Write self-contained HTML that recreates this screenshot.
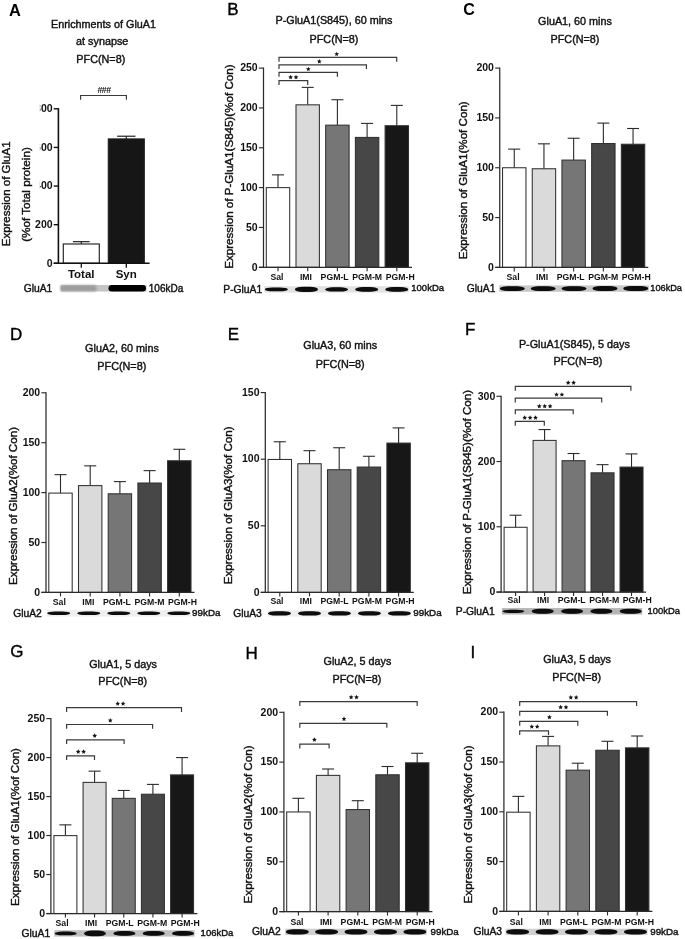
<!DOCTYPE html>
<html><head><meta charset="utf-8"><style>
html,body{margin:0;padding:0;background:#fff;}
svg{display:block;font-family:"Liberation Sans", sans-serif;will-change:transform;}
</style></head><body>
<svg width="685" height="939" viewBox="0 0 685 939">
<defs><filter id="bl0" x="-20%" y="-100%" width="140%" height="300%"><feGaussianBlur stdDeviation="0.55"/></filter><filter id="bl1" x="-20%" y="-100%" width="140%" height="300%"><feGaussianBlur stdDeviation="0.8"/></filter>
<filter id="bl2" x="-20%" y="-100%" width="140%" height="300%"><feGaussianBlur stdDeviation="1.8"/></filter></defs>
<rect width="685" height="939" fill="#fff"/>
<text x="9.00" y="15.60" font-size="16.4" text-anchor="start" font-weight="bold" fill="#000" >A</text>
<text x="103.50" y="28.30" font-size="10.8" text-anchor="middle" font-weight="normal" fill="#111" stroke="#111" stroke-width="0.4">Enrichments of GluA1</text>
<text x="102.20" y="45.30" font-size="10.8" text-anchor="middle" font-weight="normal" fill="#111" stroke="#111" stroke-width="0.4">at synapse</text>
<text x="100.80" y="63.00" font-size="10.8" text-anchor="middle" font-weight="normal" fill="#111" stroke="#111" stroke-width="0.4">PFC(N=8)</text>
<line x1="53.70" y1="263.30" x2="58.40" y2="263.30" stroke="#111" stroke-width="1.4"/>
<text x="52.60" y="266.50" font-size="10.5" text-anchor="end" font-weight="bold" fill="#111" >0</text>
<line x1="53.70" y1="224.68" x2="58.40" y2="224.68" stroke="#111" stroke-width="1.4"/>
<text x="52.60" y="227.88" font-size="10.5" text-anchor="end" font-weight="bold" fill="#111" >200</text>
<line x1="53.70" y1="186.05" x2="58.40" y2="186.05" stroke="#111" stroke-width="1.4"/>
<text x="52.60" y="189.25" font-size="10.5" text-anchor="end" font-weight="bold" fill="#111" >400</text>
<line x1="53.70" y1="147.43" x2="58.40" y2="147.43" stroke="#111" stroke-width="1.4"/>
<text x="52.60" y="150.62" font-size="10.5" text-anchor="end" font-weight="bold" fill="#111" >600</text>
<line x1="53.70" y1="108.80" x2="58.40" y2="108.80" stroke="#111" stroke-width="1.4"/>
<text x="52.60" y="112.00" font-size="10.5" text-anchor="end" font-weight="bold" fill="#111" >800</text>
<rect x="0.00" y="100.00" width="39.90" height="105.00" fill="#fff"/>
<text transform="translate(10.2,193.85) rotate(-90)" font-size="11.5" text-anchor="middle" fill="#111" stroke="#111" stroke-width="0.4">Expression of GluA1</text>
<text transform="translate(29.5,194.5) rotate(-90)" font-size="11.7" text-anchor="middle" fill="#111" stroke="#111" stroke-width="0.4">(%of Total protein)</text>
<line x1="81.30" y1="243.99" x2="81.30" y2="241.67" stroke="#222" stroke-width="1.2"/>
<line x1="72.95" y1="241.67" x2="89.65" y2="241.67" stroke="#222" stroke-width="1.2"/>
<rect x="63.30" y="243.99" width="36.00" height="19.31" fill="#fff" stroke="#222" stroke-width="1.15"/>
<line x1="126.30" y1="138.93" x2="126.30" y2="136.22" stroke="#222" stroke-width="1.2"/>
<line x1="117.15" y1="136.22" x2="135.45" y2="136.22" stroke="#222" stroke-width="1.2"/>
<rect x="108.30" y="138.93" width="36.00" height="124.37" fill="#161616" stroke="#222" stroke-width="1.15"/>
<line x1="58.40" y1="264.00" x2="58.40" y2="108.10" stroke="#111" stroke-width="1.6"/>
<line x1="53.70" y1="263.30" x2="149.60" y2="263.30" stroke="#111" stroke-width="1.6"/>
<line x1="81.30" y1="263.30" x2="81.30" y2="267.80" stroke="#111" stroke-width="1.3"/>
<line x1="126.30" y1="263.30" x2="126.30" y2="267.80" stroke="#111" stroke-width="1.3"/>
<text x="81.20" y="278.00" font-size="11.5" text-anchor="middle" font-weight="bold" fill="#111" >Total</text>
<text x="126.20" y="278.00" font-size="11.5" text-anchor="middle" font-weight="bold" fill="#111" >Syn</text>
<path d="M80.6,99.8 V95.5 H126.4 V99.8" fill="none" stroke="#3a3a3a" stroke-width="1.15"/>
<text x="104.00" y="93.30" font-size="8.8" text-anchor="middle" font-weight="bold" fill="#111" letter-spacing="-0.6">###</text>
<text x="52.30" y="291.60" font-size="10.3" text-anchor="end" font-weight="normal" fill="#111" stroke="#111" stroke-width="0.4">GluA1</text>
<rect x="60.5" y="285" width="86" height="6.5" fill="#c4c4c4" filter="url(#bl0)"/>
<rect x="60.5" y="285.3" width="36" height="6" rx="2" fill="#9c9c9c" filter="url(#bl1)"/>
<rect x="108.5" y="285" width="37.5" height="6.6" rx="3.3" fill="#050505" filter="url(#bl0)"/>
<text x="148.80" y="291.80" font-size="10.0" text-anchor="start" font-weight="normal" fill="#111" stroke="#111" stroke-width="0.4">106kDa</text>
<text x="227.20" y="14.50" font-size="17" text-anchor="start" font-weight="normal" fill="#000" stroke="#000" stroke-width="0.35">B</text>
<text x="334.00" y="24.20" font-size="10.8" text-anchor="middle" font-weight="normal" fill="#111" stroke="#111" stroke-width="0.4">P-GluA1(S845), 60 mins</text>
<text x="334.00" y="42.60" font-size="10.8" text-anchor="middle" font-weight="normal" fill="#111" stroke="#111" stroke-width="0.4">PFC(N=8)</text>
<text transform="translate(232.80,166.60) rotate(-90)" font-size="11.6" text-anchor="middle" fill="#111" stroke="#111" stroke-width="0.4">Expression of P-GluA1(S845)(%of Con)</text>
<line x1="278.00" y1="187.62" x2="278.00" y2="174.87" stroke="#2b2b2b" stroke-width="1.1"/>
<line x1="272.00" y1="174.87" x2="284.00" y2="174.87" stroke="#2b2b2b" stroke-width="1.1"/>
<rect x="266.30" y="187.62" width="23.40" height="79.68" fill="#ffffff" stroke="#303030" stroke-width="1.05"/>
<line x1="307.70" y1="104.83" x2="307.70" y2="87.38" stroke="#2b2b2b" stroke-width="1.1"/>
<line x1="301.70" y1="87.38" x2="313.70" y2="87.38" stroke="#2b2b2b" stroke-width="1.1"/>
<rect x="296.00" y="104.83" width="23.40" height="162.47" fill="#dadada" stroke="#303030" stroke-width="1.05"/>
<line x1="337.40" y1="125.15" x2="337.40" y2="99.73" stroke="#2b2b2b" stroke-width="1.1"/>
<line x1="331.40" y1="99.73" x2="343.40" y2="99.73" stroke="#2b2b2b" stroke-width="1.1"/>
<rect x="325.70" y="125.15" width="23.40" height="142.15" fill="#767676" stroke="#303030" stroke-width="1.05"/>
<line x1="367.10" y1="137.42" x2="367.10" y2="123.40" stroke="#2b2b2b" stroke-width="1.1"/>
<line x1="361.10" y1="123.40" x2="373.10" y2="123.40" stroke="#2b2b2b" stroke-width="1.1"/>
<rect x="355.40" y="137.42" width="23.40" height="129.88" fill="#474747" stroke="#303030" stroke-width="1.05"/>
<line x1="396.80" y1="125.71" x2="396.80" y2="105.39" stroke="#2b2b2b" stroke-width="1.1"/>
<line x1="390.80" y1="105.39" x2="402.80" y2="105.39" stroke="#2b2b2b" stroke-width="1.1"/>
<rect x="385.10" y="125.71" width="23.40" height="141.59" fill="#171717" stroke="#303030" stroke-width="1.05"/>
<line x1="263.50" y1="267.90" x2="263.50" y2="67.50" stroke="#2b2b2b" stroke-width="1.25"/>
<line x1="258.90" y1="267.30" x2="412.00" y2="267.30" stroke="#2b2b2b" stroke-width="1.25"/>
<line x1="258.90" y1="267.30" x2="263.50" y2="267.30" stroke="#2b2b2b" stroke-width="1.15"/>
<text x="257.70" y="270.50" font-size="10.5" text-anchor="end" font-weight="bold" fill="#111" >0</text>
<line x1="258.90" y1="227.46" x2="263.50" y2="227.46" stroke="#2b2b2b" stroke-width="1.15"/>
<text x="257.70" y="230.66" font-size="10.5" text-anchor="end" font-weight="bold" fill="#111" >50</text>
<line x1="258.90" y1="187.62" x2="263.50" y2="187.62" stroke="#2b2b2b" stroke-width="1.15"/>
<text x="257.70" y="190.82" font-size="10.5" text-anchor="end" font-weight="bold" fill="#111" >100</text>
<line x1="258.90" y1="147.78" x2="263.50" y2="147.78" stroke="#2b2b2b" stroke-width="1.15"/>
<text x="257.70" y="150.98" font-size="10.5" text-anchor="end" font-weight="bold" fill="#111" >150</text>
<line x1="258.90" y1="107.94" x2="263.50" y2="107.94" stroke="#2b2b2b" stroke-width="1.15"/>
<text x="257.70" y="111.14" font-size="10.5" text-anchor="end" font-weight="bold" fill="#111" >200</text>
<line x1="258.90" y1="68.10" x2="263.50" y2="68.10" stroke="#2b2b2b" stroke-width="1.15"/>
<text x="257.70" y="71.30" font-size="10.5" text-anchor="end" font-weight="bold" fill="#111" >250</text>
<line x1="278.00" y1="267.30" x2="278.00" y2="271.30" stroke="#2b2b2b" stroke-width="1.1"/>
<line x1="307.70" y1="267.30" x2="307.70" y2="271.30" stroke="#2b2b2b" stroke-width="1.1"/>
<line x1="337.40" y1="267.30" x2="337.40" y2="271.30" stroke="#2b2b2b" stroke-width="1.1"/>
<line x1="367.10" y1="267.30" x2="367.10" y2="271.30" stroke="#2b2b2b" stroke-width="1.1"/>
<line x1="396.80" y1="267.30" x2="396.80" y2="271.30" stroke="#2b2b2b" stroke-width="1.1"/>
<text x="277.00" y="279.90" font-size="8.7" text-anchor="middle" font-weight="bold" fill="#111" >Sal</text>
<text x="306.00" y="279.90" font-size="8.7" text-anchor="middle" font-weight="bold" fill="#111" >IMI</text>
<text x="334.60" y="279.90" font-size="8.7" text-anchor="middle" font-weight="bold" fill="#111" >PGM-L</text>
<text x="367.15" y="279.90" font-size="8.7" text-anchor="middle" font-weight="bold" fill="#111" >PGM-M</text>
<text x="400.20" y="279.90" font-size="8.7" text-anchor="middle" font-weight="bold" fill="#111" >PGM-H</text>
<path d="M279.00,61.70 V57.40 H396.70 V61.70" fill="none" stroke="#3a3a3a" stroke-width="1.2"/>
<polygon points="336.70,51.65 337.38,53.17 339.03,53.34 337.79,54.46 338.14,56.08 336.70,55.25 335.26,56.08 335.61,54.46 334.37,53.34 336.02,53.17" fill="#151515"/>
<path d="M279.00,69.10 V64.80 H366.40 V69.10" fill="none" stroke="#3a3a3a" stroke-width="1.2"/>
<polygon points="319.30,59.05 319.98,60.57 321.63,60.74 320.39,61.86 320.74,63.48 319.30,62.65 317.86,63.48 318.21,61.86 316.97,60.74 318.62,60.57" fill="#151515"/>
<path d="M279.00,76.70 V72.40 H337.40 V76.70" fill="none" stroke="#3a3a3a" stroke-width="1.2"/>
<polygon points="308.30,66.65 308.98,68.17 310.63,68.34 309.39,69.46 309.74,71.08 308.30,70.25 306.86,71.08 307.21,69.46 305.97,68.34 307.62,68.17" fill="#151515"/>
<path d="M279.00,84.90 V80.60 H307.70 V84.90" fill="none" stroke="#3a3a3a" stroke-width="1.2"/>
<polygon points="290.60,74.85 291.28,76.37 292.93,76.54 291.69,77.66 292.04,79.28 290.60,78.45 289.16,79.28 289.51,77.66 288.27,76.54 289.92,76.37" fill="#151515"/>
<polygon points="296.00,74.85 296.68,76.37 298.33,76.54 297.09,77.66 297.44,79.28 296.00,78.45 294.56,79.28 294.91,77.66 293.67,76.54 295.32,76.37" fill="#151515"/>
<text x="262.20" y="292.80" font-size="10.3" text-anchor="end" font-weight="normal" fill="#111" stroke="#111" stroke-width="0.4">P-GluA1</text>
<rect x="264.3" y="286.2" width="144.5" height="6.4" fill="#e2e2e2" filter="url(#bl0)"/>
<rect x="264.8" y="287.5" width="23.0" height="3.8" rx="8" ry="1.9" fill="#080808" filter="url(#bl0)"/>
<rect x="294.9" y="286.8" width="23.0" height="5.2" rx="8" ry="2.6" fill="#080808" filter="url(#bl0)"/>
<rect x="325.1" y="287.3" width="23.0" height="4.2" rx="8" ry="2.1" fill="#080808" filter="url(#bl0)"/>
<rect x="355.2" y="287.0" width="23.0" height="4.8" rx="8" ry="2.4" fill="#080808" filter="url(#bl0)"/>
<rect x="385.3" y="287.1" width="23.0" height="4.6" rx="8" ry="2.3" fill="#080808" filter="url(#bl0)"/>
<text x="411.30" y="291.10" font-size="9.5" text-anchor="start" font-weight="normal" fill="#111" stroke="#111" stroke-width="0.4">100kDa</text>
<text x="463.30" y="14.60" font-size="16" text-anchor="start" font-weight="bold" fill="#000" >C</text>
<text x="575.00" y="25.20" font-size="10.8" text-anchor="middle" font-weight="normal" fill="#111" stroke="#111" stroke-width="0.4">GluA1, 60 mins</text>
<text x="575.00" y="43.10" font-size="10.8" text-anchor="middle" font-weight="normal" fill="#111" stroke="#111" stroke-width="0.4">PFC(N=8)</text>
<text transform="translate(467.30,180.25) rotate(-90)" font-size="11.6" text-anchor="middle" fill="#111" stroke="#111" stroke-width="0.4">Expression of GluA1(%of Con)</text>
<line x1="514.25" y1="167.75" x2="514.25" y2="149.12" stroke="#2b2b2b" stroke-width="1.1"/>
<line x1="508.25" y1="149.12" x2="520.25" y2="149.12" stroke="#2b2b2b" stroke-width="1.1"/>
<rect x="502.55" y="167.75" width="23.40" height="99.65" fill="#ffffff" stroke="#303030" stroke-width="1.05"/>
<line x1="543.95" y1="168.75" x2="543.95" y2="143.83" stroke="#2b2b2b" stroke-width="1.1"/>
<line x1="537.95" y1="143.83" x2="549.95" y2="143.83" stroke="#2b2b2b" stroke-width="1.1"/>
<rect x="532.25" y="168.75" width="23.40" height="98.65" fill="#dadada" stroke="#303030" stroke-width="1.05"/>
<line x1="573.65" y1="160.08" x2="573.65" y2="138.25" stroke="#2b2b2b" stroke-width="1.1"/>
<line x1="567.65" y1="138.25" x2="579.65" y2="138.25" stroke="#2b2b2b" stroke-width="1.1"/>
<rect x="561.95" y="160.08" width="23.40" height="107.32" fill="#767676" stroke="#303030" stroke-width="1.05"/>
<line x1="603.35" y1="143.54" x2="603.35" y2="123.11" stroke="#2b2b2b" stroke-width="1.1"/>
<line x1="597.35" y1="123.11" x2="609.35" y2="123.11" stroke="#2b2b2b" stroke-width="1.1"/>
<rect x="591.65" y="143.54" width="23.40" height="123.86" fill="#474747" stroke="#303030" stroke-width="1.05"/>
<line x1="633.05" y1="144.23" x2="633.05" y2="128.49" stroke="#2b2b2b" stroke-width="1.1"/>
<line x1="627.05" y1="128.49" x2="639.05" y2="128.49" stroke="#2b2b2b" stroke-width="1.1"/>
<rect x="621.35" y="144.23" width="23.40" height="123.17" fill="#171717" stroke="#303030" stroke-width="1.05"/>
<line x1="499.75" y1="268.00" x2="499.75" y2="67.50" stroke="#2b2b2b" stroke-width="1.25"/>
<line x1="495.15" y1="267.40" x2="648.25" y2="267.40" stroke="#2b2b2b" stroke-width="1.25"/>
<line x1="495.15" y1="267.40" x2="499.75" y2="267.40" stroke="#2b2b2b" stroke-width="1.15"/>
<text x="493.95" y="270.60" font-size="10.5" text-anchor="end" font-weight="bold" fill="#111" >0</text>
<line x1="495.15" y1="217.57" x2="499.75" y2="217.57" stroke="#2b2b2b" stroke-width="1.15"/>
<text x="493.95" y="220.77" font-size="10.5" text-anchor="end" font-weight="bold" fill="#111" >50</text>
<line x1="495.15" y1="167.75" x2="499.75" y2="167.75" stroke="#2b2b2b" stroke-width="1.15"/>
<text x="493.95" y="170.95" font-size="10.5" text-anchor="end" font-weight="bold" fill="#111" >100</text>
<line x1="495.15" y1="117.92" x2="499.75" y2="117.92" stroke="#2b2b2b" stroke-width="1.15"/>
<text x="493.95" y="121.12" font-size="10.5" text-anchor="end" font-weight="bold" fill="#111" >150</text>
<line x1="495.15" y1="68.10" x2="499.75" y2="68.10" stroke="#2b2b2b" stroke-width="1.15"/>
<text x="493.95" y="71.30" font-size="10.5" text-anchor="end" font-weight="bold" fill="#111" >200</text>
<line x1="514.25" y1="267.40" x2="514.25" y2="271.40" stroke="#2b2b2b" stroke-width="1.1"/>
<line x1="543.95" y1="267.40" x2="543.95" y2="271.40" stroke="#2b2b2b" stroke-width="1.1"/>
<line x1="573.65" y1="267.40" x2="573.65" y2="271.40" stroke="#2b2b2b" stroke-width="1.1"/>
<line x1="603.35" y1="267.40" x2="603.35" y2="271.40" stroke="#2b2b2b" stroke-width="1.1"/>
<line x1="633.05" y1="267.40" x2="633.05" y2="271.40" stroke="#2b2b2b" stroke-width="1.1"/>
<text x="513.10" y="280.20" font-size="8.7" text-anchor="middle" font-weight="bold" fill="#111" >Sal</text>
<text x="542.10" y="280.20" font-size="8.7" text-anchor="middle" font-weight="bold" fill="#111" >IMI</text>
<text x="570.70" y="280.20" font-size="8.7" text-anchor="middle" font-weight="bold" fill="#111" >PGM-L</text>
<text x="603.25" y="280.20" font-size="8.7" text-anchor="middle" font-weight="bold" fill="#111" >PGM-M</text>
<text x="636.30" y="280.20" font-size="8.7" text-anchor="middle" font-weight="bold" fill="#111" >PGM-H</text>
<text x="495.40" y="292.00" font-size="10.3" text-anchor="end" font-weight="normal" fill="#111" stroke="#111" stroke-width="0.4">GluA1</text>
<rect x="499.2" y="285.4" width="149.6" height="6.4" fill="#c8c8c8" filter="url(#bl0)"/>
<rect x="499.8" y="286.3" width="25.0" height="4.6" rx="8" ry="2.3" fill="#080808" filter="url(#bl0)"/>
<rect x="530.7" y="286.3" width="25.0" height="4.6" rx="8" ry="2.3" fill="#080808" filter="url(#bl0)"/>
<rect x="561.5" y="286.3" width="25.0" height="4.6" rx="8" ry="2.3" fill="#080808" filter="url(#bl0)"/>
<rect x="592.5" y="286.1" width="25.0" height="5.0" rx="8" ry="2.5" fill="#080808" filter="url(#bl0)"/>
<rect x="623.3" y="286.1" width="25.0" height="5.0" rx="8" ry="2.5" fill="#080808" filter="url(#bl0)"/>
<text x="650.30" y="290.90" font-size="9.2" text-anchor="start" font-weight="normal" fill="#111" stroke="#111" stroke-width="0.4">106kDa</text>
<text x="10.00" y="339.60" font-size="17" text-anchor="start" font-weight="normal" fill="#000" stroke="#000" stroke-width="0.35">D</text>
<text x="122.00" y="351.60" font-size="10.8" text-anchor="middle" font-weight="normal" fill="#111" stroke="#111" stroke-width="0.4">GluA2, 60 mins</text>
<text x="121.80" y="369.60" font-size="10.8" text-anchor="middle" font-weight="normal" fill="#111" stroke="#111" stroke-width="0.4">PFC(N=8)</text>
<text transform="translate(17.00,505.95) rotate(-90)" font-size="11.6" text-anchor="middle" fill="#111" stroke="#111" stroke-width="0.4">Expression of GluA2(%of Con)</text>
<line x1="60.50" y1="493.10" x2="60.50" y2="474.64" stroke="#2b2b2b" stroke-width="1.1"/>
<line x1="54.50" y1="474.64" x2="66.50" y2="474.64" stroke="#2b2b2b" stroke-width="1.1"/>
<rect x="48.80" y="493.10" width="23.40" height="99.30" fill="#ffffff" stroke="#303030" stroke-width="1.05"/>
<line x1="90.20" y1="485.61" x2="90.20" y2="465.85" stroke="#2b2b2b" stroke-width="1.1"/>
<line x1="84.20" y1="465.85" x2="96.20" y2="465.85" stroke="#2b2b2b" stroke-width="1.1"/>
<rect x="78.50" y="485.61" width="23.40" height="106.79" fill="#dadada" stroke="#303030" stroke-width="1.05"/>
<line x1="119.90" y1="493.80" x2="119.90" y2="481.62" stroke="#2b2b2b" stroke-width="1.1"/>
<line x1="113.90" y1="481.62" x2="125.90" y2="481.62" stroke="#2b2b2b" stroke-width="1.1"/>
<rect x="108.20" y="493.80" width="23.40" height="98.60" fill="#767676" stroke="#303030" stroke-width="1.05"/>
<line x1="149.60" y1="483.02" x2="149.60" y2="470.64" stroke="#2b2b2b" stroke-width="1.1"/>
<line x1="143.60" y1="470.64" x2="155.60" y2="470.64" stroke="#2b2b2b" stroke-width="1.1"/>
<rect x="137.90" y="483.02" width="23.40" height="109.38" fill="#474747" stroke="#303030" stroke-width="1.05"/>
<line x1="179.30" y1="460.76" x2="179.30" y2="449.29" stroke="#2b2b2b" stroke-width="1.1"/>
<line x1="173.30" y1="449.29" x2="185.30" y2="449.29" stroke="#2b2b2b" stroke-width="1.1"/>
<rect x="167.60" y="460.76" width="23.40" height="131.64" fill="#171717" stroke="#303030" stroke-width="1.05"/>
<line x1="46.00" y1="593.00" x2="46.00" y2="392.20" stroke="#2b2b2b" stroke-width="1.25"/>
<line x1="41.40" y1="592.40" x2="194.50" y2="592.40" stroke="#2b2b2b" stroke-width="1.25"/>
<line x1="41.40" y1="592.40" x2="46.00" y2="592.40" stroke="#2b2b2b" stroke-width="1.15"/>
<text x="40.20" y="595.60" font-size="10.5" text-anchor="end" font-weight="bold" fill="#111" >0</text>
<line x1="41.40" y1="542.50" x2="46.00" y2="542.50" stroke="#2b2b2b" stroke-width="1.15"/>
<text x="40.20" y="545.70" font-size="10.5" text-anchor="end" font-weight="bold" fill="#111" >50</text>
<line x1="41.40" y1="492.60" x2="46.00" y2="492.60" stroke="#2b2b2b" stroke-width="1.15"/>
<text x="40.20" y="495.80" font-size="10.5" text-anchor="end" font-weight="bold" fill="#111" >100</text>
<line x1="41.40" y1="442.70" x2="46.00" y2="442.70" stroke="#2b2b2b" stroke-width="1.15"/>
<text x="40.20" y="445.90" font-size="10.5" text-anchor="end" font-weight="bold" fill="#111" >150</text>
<line x1="41.40" y1="392.80" x2="46.00" y2="392.80" stroke="#2b2b2b" stroke-width="1.15"/>
<text x="40.20" y="396.00" font-size="10.5" text-anchor="end" font-weight="bold" fill="#111" >200</text>
<line x1="60.50" y1="592.40" x2="60.50" y2="596.40" stroke="#2b2b2b" stroke-width="1.1"/>
<line x1="90.20" y1="592.40" x2="90.20" y2="596.40" stroke="#2b2b2b" stroke-width="1.1"/>
<line x1="119.90" y1="592.40" x2="119.90" y2="596.40" stroke="#2b2b2b" stroke-width="1.1"/>
<line x1="149.60" y1="592.40" x2="149.60" y2="596.40" stroke="#2b2b2b" stroke-width="1.1"/>
<line x1="179.30" y1="592.40" x2="179.30" y2="596.40" stroke="#2b2b2b" stroke-width="1.1"/>
<text x="59.30" y="604.50" font-size="8.7" text-anchor="middle" font-weight="bold" fill="#111" >Sal</text>
<text x="88.30" y="604.50" font-size="8.7" text-anchor="middle" font-weight="bold" fill="#111" >IMI</text>
<text x="116.90" y="604.50" font-size="8.7" text-anchor="middle" font-weight="bold" fill="#111" >PGM-L</text>
<text x="149.45" y="604.50" font-size="8.7" text-anchor="middle" font-weight="bold" fill="#111" >PGM-M</text>
<text x="182.50" y="604.50" font-size="8.7" text-anchor="middle" font-weight="bold" fill="#111" >PGM-H</text>
<text x="41.80" y="616.70" font-size="10.3" text-anchor="end" font-weight="normal" fill="#111" stroke="#111" stroke-width="0.4">GluA2</text>
<rect x="46.8" y="610.1" width="144.1" height="6.4" fill="#efefef" filter="url(#bl0)"/>
<rect x="47.2" y="611.5" width="23.0" height="3.6" rx="8" ry="1.8" fill="#080808" filter="url(#bl0)"/>
<rect x="77.3" y="611.5" width="23.0" height="3.6" rx="8" ry="1.8" fill="#080808" filter="url(#bl0)"/>
<rect x="107.3" y="611.5" width="23.0" height="3.6" rx="8" ry="1.8" fill="#080808" filter="url(#bl0)"/>
<rect x="137.3" y="611.5" width="23.0" height="3.6" rx="8" ry="1.8" fill="#080808" filter="url(#bl0)"/>
<rect x="167.3" y="611.5" width="23.0" height="3.6" rx="8" ry="1.8" fill="#080808" filter="url(#bl0)"/>
<text x="192.10" y="616.30" font-size="9.8" text-anchor="start" font-weight="normal" fill="#111" stroke="#111" stroke-width="0.4">99kDa</text>
<text x="227.80" y="339.60" font-size="17" text-anchor="start" font-weight="normal" fill="#000" stroke="#000" stroke-width="0.35">E</text>
<text x="340.20" y="349.40" font-size="10.8" text-anchor="middle" font-weight="normal" fill="#111" stroke="#111" stroke-width="0.4">GluA3, 60 mins</text>
<text x="340.20" y="367.70" font-size="10.8" text-anchor="middle" font-weight="normal" fill="#111" stroke="#111" stroke-width="0.4">PFC(N=8)</text>
<text transform="translate(232.40,505.40) rotate(-90)" font-size="11.6" text-anchor="middle" fill="#111" stroke="#111" stroke-width="0.4">Expression of GluA3(%of Con)</text>
<line x1="279.80" y1="459.47" x2="279.80" y2="441.75" stroke="#2b2b2b" stroke-width="1.1"/>
<line x1="273.80" y1="441.75" x2="285.80" y2="441.75" stroke="#2b2b2b" stroke-width="1.1"/>
<rect x="268.10" y="459.47" width="23.40" height="132.93" fill="#ffffff" stroke="#303030" stroke-width="1.05"/>
<line x1="309.50" y1="463.73" x2="309.50" y2="450.68" stroke="#2b2b2b" stroke-width="1.1"/>
<line x1="303.50" y1="450.68" x2="315.50" y2="450.68" stroke="#2b2b2b" stroke-width="1.1"/>
<rect x="297.80" y="463.73" width="23.40" height="128.67" fill="#dadada" stroke="#303030" stroke-width="1.05"/>
<line x1="339.20" y1="469.72" x2="339.20" y2="447.74" stroke="#2b2b2b" stroke-width="1.1"/>
<line x1="333.20" y1="447.74" x2="345.20" y2="447.74" stroke="#2b2b2b" stroke-width="1.1"/>
<rect x="327.50" y="469.72" width="23.40" height="122.68" fill="#767676" stroke="#303030" stroke-width="1.05"/>
<line x1="368.90" y1="467.06" x2="368.90" y2="456.27" stroke="#2b2b2b" stroke-width="1.1"/>
<line x1="362.90" y1="456.27" x2="374.90" y2="456.27" stroke="#2b2b2b" stroke-width="1.1"/>
<rect x="357.20" y="467.06" width="23.40" height="125.34" fill="#474747" stroke="#303030" stroke-width="1.05"/>
<line x1="398.60" y1="443.08" x2="398.60" y2="427.90" stroke="#2b2b2b" stroke-width="1.1"/>
<line x1="392.60" y1="427.90" x2="404.60" y2="427.90" stroke="#2b2b2b" stroke-width="1.1"/>
<rect x="386.90" y="443.08" width="23.40" height="149.32" fill="#171717" stroke="#303030" stroke-width="1.05"/>
<line x1="265.30" y1="593.00" x2="265.30" y2="392.00" stroke="#2b2b2b" stroke-width="1.25"/>
<line x1="260.70" y1="592.40" x2="413.80" y2="592.40" stroke="#2b2b2b" stroke-width="1.25"/>
<line x1="260.70" y1="592.40" x2="265.30" y2="592.40" stroke="#2b2b2b" stroke-width="1.15"/>
<text x="259.50" y="595.60" font-size="10.5" text-anchor="end" font-weight="bold" fill="#111" >0</text>
<line x1="260.70" y1="525.80" x2="265.30" y2="525.80" stroke="#2b2b2b" stroke-width="1.15"/>
<text x="259.50" y="529.00" font-size="10.5" text-anchor="end" font-weight="bold" fill="#111" >50</text>
<line x1="260.70" y1="459.20" x2="265.30" y2="459.20" stroke="#2b2b2b" stroke-width="1.15"/>
<text x="259.50" y="462.40" font-size="10.5" text-anchor="end" font-weight="bold" fill="#111" >100</text>
<line x1="260.70" y1="392.60" x2="265.30" y2="392.60" stroke="#2b2b2b" stroke-width="1.15"/>
<text x="259.50" y="395.80" font-size="10.5" text-anchor="end" font-weight="bold" fill="#111" >150</text>
<line x1="279.80" y1="592.40" x2="279.80" y2="596.40" stroke="#2b2b2b" stroke-width="1.1"/>
<line x1="309.50" y1="592.40" x2="309.50" y2="596.40" stroke="#2b2b2b" stroke-width="1.1"/>
<line x1="339.20" y1="592.40" x2="339.20" y2="596.40" stroke="#2b2b2b" stroke-width="1.1"/>
<line x1="368.90" y1="592.40" x2="368.90" y2="596.40" stroke="#2b2b2b" stroke-width="1.1"/>
<line x1="398.60" y1="592.40" x2="398.60" y2="596.40" stroke="#2b2b2b" stroke-width="1.1"/>
<text x="276.90" y="604.30" font-size="8.7" text-anchor="middle" font-weight="bold" fill="#111" >Sal</text>
<text x="305.90" y="604.30" font-size="8.7" text-anchor="middle" font-weight="bold" fill="#111" >IMI</text>
<text x="334.50" y="604.30" font-size="8.7" text-anchor="middle" font-weight="bold" fill="#111" >PGM-L</text>
<text x="367.05" y="604.30" font-size="8.7" text-anchor="middle" font-weight="bold" fill="#111" >PGM-M</text>
<text x="400.10" y="604.30" font-size="8.7" text-anchor="middle" font-weight="bold" fill="#111" >PGM-H</text>
<text x="261.80" y="616.80" font-size="10.3" text-anchor="end" font-weight="normal" fill="#111" stroke="#111" stroke-width="0.4">GluA3</text>
<rect x="267.5" y="610.2" width="143.9" height="6.4" fill="#efefef" filter="url(#bl0)"/>
<rect x="268.0" y="611.2" width="23.0" height="4.4" rx="8" ry="2.2" fill="#080808" filter="url(#bl0)"/>
<rect x="298.0" y="611.2" width="23.0" height="4.4" rx="8" ry="2.2" fill="#080808" filter="url(#bl0)"/>
<rect x="327.9" y="611.2" width="23.0" height="4.4" rx="8" ry="2.2" fill="#080808" filter="url(#bl0)"/>
<rect x="357.9" y="611.2" width="23.0" height="4.4" rx="8" ry="2.2" fill="#080808" filter="url(#bl0)"/>
<rect x="387.9" y="611.2" width="23.0" height="4.4" rx="8" ry="2.2" fill="#080808" filter="url(#bl0)"/>
<text x="413.30" y="616.30" font-size="9.8" text-anchor="start" font-weight="normal" fill="#111" stroke="#111" stroke-width="0.4">99kDa</text>
<text x="464.90" y="335.40" font-size="17" text-anchor="start" font-weight="normal" fill="#000" stroke="#000" stroke-width="0.35">F</text>
<text x="574.40" y="347.50" font-size="10.8" text-anchor="middle" font-weight="normal" fill="#111" stroke="#111" stroke-width="0.4">P-GluA1(S845), 5 days</text>
<text x="577.90" y="365.20" font-size="10.8" text-anchor="middle" font-weight="normal" fill="#111" stroke="#111" stroke-width="0.4">PFC(N=8)</text>
<text transform="translate(470.70,492.05) rotate(-90)" font-size="11.6" text-anchor="middle" fill="#111" stroke="#111" stroke-width="0.4">Expression of P-GluA1(S845)(%of Con)</text>
<line x1="515.60" y1="527.29" x2="515.60" y2="515.22" stroke="#2b2b2b" stroke-width="1.1"/>
<line x1="509.60" y1="515.22" x2="521.60" y2="515.22" stroke="#2b2b2b" stroke-width="1.1"/>
<rect x="504.10" y="527.29" width="23.00" height="64.71" fill="#ffffff" stroke="#303030" stroke-width="1.05"/>
<line x1="544.58" y1="440.40" x2="544.58" y2="429.57" stroke="#2b2b2b" stroke-width="1.1"/>
<line x1="538.58" y1="429.57" x2="550.58" y2="429.57" stroke="#2b2b2b" stroke-width="1.1"/>
<rect x="533.08" y="440.40" width="23.00" height="151.60" fill="#dadada" stroke="#303030" stroke-width="1.05"/>
<line x1="573.56" y1="460.69" x2="573.56" y2="453.51" stroke="#2b2b2b" stroke-width="1.1"/>
<line x1="567.56" y1="453.51" x2="579.56" y2="453.51" stroke="#2b2b2b" stroke-width="1.1"/>
<rect x="562.06" y="460.69" width="23.00" height="131.31" fill="#767676" stroke="#303030" stroke-width="1.05"/>
<line x1="602.54" y1="472.82" x2="602.54" y2="464.66" stroke="#2b2b2b" stroke-width="1.1"/>
<line x1="596.54" y1="464.66" x2="608.54" y2="464.66" stroke="#2b2b2b" stroke-width="1.1"/>
<rect x="591.04" y="472.82" width="23.00" height="119.18" fill="#474747" stroke="#303030" stroke-width="1.05"/>
<line x1="631.52" y1="467.08" x2="631.52" y2="453.90" stroke="#2b2b2b" stroke-width="1.1"/>
<line x1="625.52" y1="453.90" x2="637.52" y2="453.90" stroke="#2b2b2b" stroke-width="1.1"/>
<rect x="620.02" y="467.08" width="23.00" height="124.92" fill="#171717" stroke="#303030" stroke-width="1.05"/>
<line x1="501.10" y1="592.60" x2="501.10" y2="395.70" stroke="#2b2b2b" stroke-width="1.25"/>
<line x1="496.50" y1="592.00" x2="646.10" y2="592.00" stroke="#2b2b2b" stroke-width="1.25"/>
<line x1="496.50" y1="592.00" x2="501.10" y2="592.00" stroke="#2b2b2b" stroke-width="1.15"/>
<text x="495.30" y="595.20" font-size="10.5" text-anchor="end" font-weight="bold" fill="#111" >0</text>
<line x1="496.50" y1="526.77" x2="501.10" y2="526.77" stroke="#2b2b2b" stroke-width="1.15"/>
<text x="495.30" y="529.97" font-size="10.5" text-anchor="end" font-weight="bold" fill="#111" >100</text>
<line x1="496.50" y1="461.53" x2="501.10" y2="461.53" stroke="#2b2b2b" stroke-width="1.15"/>
<text x="495.30" y="464.73" font-size="10.5" text-anchor="end" font-weight="bold" fill="#111" >200</text>
<line x1="496.50" y1="396.30" x2="501.10" y2="396.30" stroke="#2b2b2b" stroke-width="1.15"/>
<text x="495.30" y="399.50" font-size="10.5" text-anchor="end" font-weight="bold" fill="#111" >300</text>
<line x1="515.60" y1="592.00" x2="515.60" y2="596.00" stroke="#2b2b2b" stroke-width="1.1"/>
<line x1="544.58" y1="592.00" x2="544.58" y2="596.00" stroke="#2b2b2b" stroke-width="1.1"/>
<line x1="573.56" y1="592.00" x2="573.56" y2="596.00" stroke="#2b2b2b" stroke-width="1.1"/>
<line x1="602.54" y1="592.00" x2="602.54" y2="596.00" stroke="#2b2b2b" stroke-width="1.1"/>
<line x1="631.52" y1="592.00" x2="631.52" y2="596.00" stroke="#2b2b2b" stroke-width="1.1"/>
<text x="514.10" y="603.30" font-size="8.7" text-anchor="middle" font-weight="bold" fill="#111" >Sal</text>
<text x="543.10" y="603.30" font-size="8.7" text-anchor="middle" font-weight="bold" fill="#111" >IMI</text>
<text x="571.70" y="603.30" font-size="8.7" text-anchor="middle" font-weight="bold" fill="#111" >PGM-L</text>
<text x="604.25" y="603.30" font-size="8.7" text-anchor="middle" font-weight="bold" fill="#111" >PGM-M</text>
<text x="637.30" y="603.30" font-size="8.7" text-anchor="middle" font-weight="bold" fill="#111" >PGM-H</text>
<path d="M515.30,390.70 V386.40 H630.90 V390.70" fill="none" stroke="#3a3a3a" stroke-width="1.2"/>
<polygon points="568.20,380.35 568.88,381.87 570.53,382.04 569.29,383.16 569.64,384.78 568.20,383.95 566.76,384.78 567.11,383.16 565.87,382.04 567.52,381.87" fill="#151515"/>
<polygon points="573.60,380.35 574.28,381.87 575.93,382.04 574.69,383.16 575.04,384.78 573.60,383.95 572.16,384.78 572.51,383.16 571.27,382.04 572.92,381.87" fill="#151515"/>
<path d="M515.30,402.50 V398.20 H601.70 V402.50" fill="none" stroke="#3a3a3a" stroke-width="1.2"/>
<polygon points="556.50,392.15 557.18,393.67 558.83,393.84 557.59,394.96 557.94,396.58 556.50,395.75 555.06,396.58 555.41,394.96 554.17,393.84 555.82,393.67" fill="#151515"/>
<polygon points="561.90,392.15 562.58,393.67 564.23,393.84 562.99,394.96 563.34,396.58 561.90,395.75 560.46,396.58 560.81,394.96 559.57,393.84 561.22,393.67" fill="#151515"/>
<path d="M515.30,414.20 V409.90 H573.20 V414.20" fill="none" stroke="#3a3a3a" stroke-width="1.2"/>
<polygon points="539.30,403.85 539.98,405.37 541.63,405.54 540.39,406.66 540.74,408.28 539.30,407.45 537.86,408.28 538.21,406.66 536.97,405.54 538.62,405.37" fill="#151515"/>
<polygon points="544.70,403.85 545.38,405.37 547.03,405.54 545.79,406.66 546.14,408.28 544.70,407.45 543.26,408.28 543.61,406.66 542.37,405.54 544.02,405.37" fill="#151515"/>
<polygon points="550.10,403.85 550.78,405.37 552.43,405.54 551.19,406.66 551.54,408.28 550.10,407.45 548.66,408.28 549.01,406.66 547.77,405.54 549.42,405.37" fill="#151515"/>
<path d="M515.30,425.70 V421.40 H544.30 V425.70" fill="none" stroke="#3a3a3a" stroke-width="1.2"/>
<polygon points="524.70,415.35 525.38,416.87 527.03,417.04 525.79,418.16 526.14,419.78 524.70,418.95 523.26,419.78 523.61,418.16 522.37,417.04 524.02,416.87" fill="#151515"/>
<polygon points="530.10,415.35 530.78,416.87 532.43,417.04 531.19,418.16 531.54,419.78 530.10,418.95 528.66,419.78 529.01,418.16 527.77,417.04 529.42,416.87" fill="#151515"/>
<polygon points="535.50,415.35 536.18,416.87 537.83,417.04 536.59,418.16 536.94,419.78 535.50,418.95 534.06,419.78 534.41,418.16 533.17,417.04 534.82,416.87" fill="#151515"/>
<text x="494.70" y="614.70" font-size="10.3" text-anchor="end" font-weight="normal" fill="#111" stroke="#111" stroke-width="0.4">P-GluA1</text>
<rect x="501.9" y="608.1" width="140.3" height="6.4" fill="#b4b4b4" filter="url(#bl0)"/>
<rect x="502.4" y="609.7" width="22.0" height="3.2" rx="8" ry="1.6" fill="#080808" filter="url(#bl0)"/>
<rect x="531.7" y="608.8" width="22.0" height="5.0" rx="8" ry="2.5" fill="#080808" filter="url(#bl0)"/>
<rect x="561.1" y="608.8" width="22.0" height="5.0" rx="8" ry="2.5" fill="#080808" filter="url(#bl0)"/>
<rect x="590.4" y="608.8" width="22.0" height="5.0" rx="8" ry="2.5" fill="#080808" filter="url(#bl0)"/>
<rect x="619.7" y="608.8" width="22.0" height="5.0" rx="8" ry="2.5" fill="#080808" filter="url(#bl0)"/>
<text x="647.60" y="614.00" font-size="9.4" text-anchor="start" font-weight="normal" fill="#111" stroke="#111" stroke-width="0.4">100kDa</text>
<text x="10.30" y="657.30" font-size="17" text-anchor="start" font-weight="normal" fill="#000" stroke="#000" stroke-width="0.35">G</text>
<text x="123.10" y="667.60" font-size="10.8" text-anchor="middle" font-weight="normal" fill="#111" stroke="#111" stroke-width="0.4">GluA1, 5 days</text>
<text x="122.70" y="685.40" font-size="10.8" text-anchor="middle" font-weight="normal" fill="#111" stroke="#111" stroke-width="0.4">PFC(N=8)</text>
<text transform="translate(19.00,827.00) rotate(-90)" font-size="11.6" text-anchor="middle" fill="#111" stroke="#111" stroke-width="0.4">Expression of GluA1(%of Con)</text>
<line x1="65.40" y1="835.62" x2="65.40" y2="824.86" stroke="#2b2b2b" stroke-width="1.1"/>
<line x1="59.40" y1="824.86" x2="71.40" y2="824.86" stroke="#2b2b2b" stroke-width="1.1"/>
<rect x="53.90" y="835.62" width="23.00" height="77.88" fill="#ffffff" stroke="#303030" stroke-width="1.05"/>
<line x1="94.57" y1="782.37" x2="94.57" y2="771.15" stroke="#2b2b2b" stroke-width="1.1"/>
<line x1="88.57" y1="771.15" x2="100.57" y2="771.15" stroke="#2b2b2b" stroke-width="1.1"/>
<rect x="83.07" y="782.37" width="23.00" height="131.13" fill="#dadada" stroke="#303030" stroke-width="1.05"/>
<line x1="123.74" y1="798.35" x2="123.74" y2="790.48" stroke="#2b2b2b" stroke-width="1.1"/>
<line x1="117.74" y1="790.48" x2="129.74" y2="790.48" stroke="#2b2b2b" stroke-width="1.1"/>
<rect x="112.24" y="798.35" width="23.00" height="115.15" fill="#767676" stroke="#303030" stroke-width="1.05"/>
<line x1="152.91" y1="794.22" x2="152.91" y2="784.40" stroke="#2b2b2b" stroke-width="1.1"/>
<line x1="146.91" y1="784.40" x2="158.91" y2="784.40" stroke="#2b2b2b" stroke-width="1.1"/>
<rect x="141.41" y="794.22" width="23.00" height="119.28" fill="#474747" stroke="#303030" stroke-width="1.05"/>
<line x1="182.08" y1="774.89" x2="182.08" y2="757.58" stroke="#2b2b2b" stroke-width="1.1"/>
<line x1="176.08" y1="757.58" x2="188.08" y2="757.58" stroke="#2b2b2b" stroke-width="1.1"/>
<rect x="170.58" y="774.89" width="23.00" height="138.61" fill="#171717" stroke="#303030" stroke-width="1.05"/>
<line x1="50.90" y1="914.10" x2="50.90" y2="718.00" stroke="#2b2b2b" stroke-width="1.25"/>
<line x1="46.30" y1="913.50" x2="197.40" y2="913.50" stroke="#2b2b2b" stroke-width="1.25"/>
<line x1="46.30" y1="913.50" x2="50.90" y2="913.50" stroke="#2b2b2b" stroke-width="1.15"/>
<text x="45.10" y="916.70" font-size="10.5" text-anchor="end" font-weight="bold" fill="#111" >0</text>
<line x1="46.30" y1="874.52" x2="50.90" y2="874.52" stroke="#2b2b2b" stroke-width="1.15"/>
<text x="45.10" y="877.72" font-size="10.5" text-anchor="end" font-weight="bold" fill="#111" >50</text>
<line x1="46.30" y1="835.54" x2="50.90" y2="835.54" stroke="#2b2b2b" stroke-width="1.15"/>
<text x="45.10" y="838.74" font-size="10.5" text-anchor="end" font-weight="bold" fill="#111" >100</text>
<line x1="46.30" y1="796.56" x2="50.90" y2="796.56" stroke="#2b2b2b" stroke-width="1.15"/>
<text x="45.10" y="799.76" font-size="10.5" text-anchor="end" font-weight="bold" fill="#111" >150</text>
<line x1="46.30" y1="757.58" x2="50.90" y2="757.58" stroke="#2b2b2b" stroke-width="1.15"/>
<text x="45.10" y="760.78" font-size="10.5" text-anchor="end" font-weight="bold" fill="#111" >200</text>
<line x1="46.30" y1="718.60" x2="50.90" y2="718.60" stroke="#2b2b2b" stroke-width="1.15"/>
<text x="45.10" y="721.80" font-size="10.5" text-anchor="end" font-weight="bold" fill="#111" >250</text>
<line x1="65.40" y1="913.50" x2="65.40" y2="917.50" stroke="#2b2b2b" stroke-width="1.1"/>
<line x1="94.57" y1="913.50" x2="94.57" y2="917.50" stroke="#2b2b2b" stroke-width="1.1"/>
<line x1="123.74" y1="913.50" x2="123.74" y2="917.50" stroke="#2b2b2b" stroke-width="1.1"/>
<line x1="152.91" y1="913.50" x2="152.91" y2="917.50" stroke="#2b2b2b" stroke-width="1.1"/>
<line x1="182.08" y1="913.50" x2="182.08" y2="917.50" stroke="#2b2b2b" stroke-width="1.1"/>
<text x="62.10" y="925.50" font-size="8.7" text-anchor="middle" font-weight="bold" fill="#111" >Sal</text>
<text x="91.10" y="925.50" font-size="8.7" text-anchor="middle" font-weight="bold" fill="#111" >IMI</text>
<text x="119.70" y="925.50" font-size="8.7" text-anchor="middle" font-weight="bold" fill="#111" >PGM-L</text>
<text x="152.25" y="925.50" font-size="8.7" text-anchor="middle" font-weight="bold" fill="#111" >PGM-M</text>
<text x="185.30" y="925.50" font-size="8.7" text-anchor="middle" font-weight="bold" fill="#111" >PGM-H</text>
<path d="M66.60,712.00 V707.70 H181.50 V712.00" fill="none" stroke="#3a3a3a" stroke-width="1.2"/>
<polygon points="117.70,701.25 118.38,702.77 120.03,702.94 118.79,704.06 119.14,705.68 117.70,704.85 116.26,705.68 116.61,704.06 115.37,702.94 117.02,702.77" fill="#151515"/>
<polygon points="123.10,701.25 123.78,702.77 125.43,702.94 124.19,704.06 124.54,705.68 123.10,704.85 121.66,705.68 122.01,704.06 120.77,702.94 122.42,702.77" fill="#151515"/>
<path d="M66.60,728.80 V724.50 H152.60 V728.80" fill="none" stroke="#3a3a3a" stroke-width="1.2"/>
<polygon points="110.30,718.05 110.98,719.57 112.63,719.74 111.39,720.86 111.74,722.48 110.30,721.65 108.86,722.48 109.21,720.86 107.97,719.74 109.62,719.57" fill="#151515"/>
<path d="M66.60,744.10 V739.80 H124.10 V744.10" fill="none" stroke="#3a3a3a" stroke-width="1.2"/>
<polygon points="94.70,733.35 95.38,734.87 97.03,735.04 95.79,736.16 96.14,737.78 94.70,736.95 93.26,737.78 93.61,736.16 92.37,735.04 94.02,734.87" fill="#151515"/>
<path d="M66.60,760.10 V755.80 H94.50 V760.10" fill="none" stroke="#3a3a3a" stroke-width="1.2"/>
<polygon points="78.20,749.35 78.88,750.87 80.53,751.04 79.29,752.16 79.64,753.78 78.20,752.95 76.76,753.78 77.11,752.16 75.87,751.04 77.52,750.87" fill="#151515"/>
<polygon points="83.60,749.35 84.28,750.87 85.93,751.04 84.69,752.16 85.04,753.78 83.60,752.95 82.16,753.78 82.51,752.16 81.27,751.04 82.92,750.87" fill="#151515"/>
<text x="50.20" y="936.80" font-size="10.3" text-anchor="end" font-weight="normal" fill="#111" stroke="#111" stroke-width="0.4">GluA1</text>
<rect x="54.2" y="930.2" width="140.4" height="6.4" fill="#c0c0c0" filter="url(#bl0)"/>
<rect x="54.7" y="931.6" width="22.0" height="3.6" rx="8" ry="1.8" fill="#080808" filter="url(#bl0)"/>
<rect x="84.0" y="930.6" width="22.0" height="5.6" rx="8" ry="2.8" fill="#080808" filter="url(#bl0)"/>
<rect x="113.4" y="931.0" width="22.0" height="4.8" rx="8" ry="2.4" fill="#080808" filter="url(#bl0)"/>
<rect x="142.7" y="931.0" width="22.0" height="4.8" rx="8" ry="2.4" fill="#080808" filter="url(#bl0)"/>
<rect x="172.1" y="931.0" width="22.0" height="4.8" rx="8" ry="2.4" fill="#080808" filter="url(#bl0)"/>
<text x="200.60" y="935.60" font-size="9.5" text-anchor="start" font-weight="normal" fill="#111" stroke="#111" stroke-width="0.4">106kDa</text>
<text x="245.50" y="659.00" font-size="17" text-anchor="start" font-weight="normal" fill="#000" stroke="#000" stroke-width="0.35">H</text>
<text x="357.40" y="665.00" font-size="10.8" text-anchor="middle" font-weight="normal" fill="#111" stroke="#111" stroke-width="0.4">GluA2, 5 days</text>
<text x="357.00" y="682.90" font-size="10.8" text-anchor="middle" font-weight="normal" fill="#111" stroke="#111" stroke-width="0.4">PFC(N=8)</text>
<text transform="translate(251.60,824.45) rotate(-90)" font-size="11.6" text-anchor="middle" fill="#111" stroke="#111" stroke-width="0.4">Expression of GluA2(%of Con)</text>
<line x1="298.40" y1="811.95" x2="298.40" y2="798.30" stroke="#2b2b2b" stroke-width="1.1"/>
<line x1="292.40" y1="798.30" x2="304.40" y2="798.30" stroke="#2b2b2b" stroke-width="1.1"/>
<rect x="286.70" y="811.95" width="23.40" height="99.65" fill="#ffffff" stroke="#303030" stroke-width="1.05"/>
<line x1="328.10" y1="775.38" x2="328.10" y2="769.00" stroke="#2b2b2b" stroke-width="1.1"/>
<line x1="322.10" y1="769.00" x2="334.10" y2="769.00" stroke="#2b2b2b" stroke-width="1.1"/>
<rect x="316.40" y="775.38" width="23.40" height="136.22" fill="#dadada" stroke="#303030" stroke-width="1.05"/>
<line x1="357.80" y1="809.56" x2="357.80" y2="800.69" stroke="#2b2b2b" stroke-width="1.1"/>
<line x1="351.80" y1="800.69" x2="363.80" y2="800.69" stroke="#2b2b2b" stroke-width="1.1"/>
<rect x="346.10" y="809.56" width="23.40" height="102.04" fill="#767676" stroke="#303030" stroke-width="1.05"/>
<line x1="387.50" y1="774.78" x2="387.50" y2="766.51" stroke="#2b2b2b" stroke-width="1.1"/>
<line x1="381.50" y1="766.51" x2="393.50" y2="766.51" stroke="#2b2b2b" stroke-width="1.1"/>
<rect x="375.80" y="774.78" width="23.40" height="136.82" fill="#474747" stroke="#303030" stroke-width="1.05"/>
<line x1="417.20" y1="762.82" x2="417.20" y2="753.26" stroke="#2b2b2b" stroke-width="1.1"/>
<line x1="411.20" y1="753.26" x2="423.20" y2="753.26" stroke="#2b2b2b" stroke-width="1.1"/>
<rect x="405.50" y="762.82" width="23.40" height="148.78" fill="#171717" stroke="#303030" stroke-width="1.05"/>
<line x1="283.90" y1="912.20" x2="283.90" y2="711.70" stroke="#2b2b2b" stroke-width="1.25"/>
<line x1="279.30" y1="911.60" x2="432.40" y2="911.60" stroke="#2b2b2b" stroke-width="1.25"/>
<line x1="279.30" y1="911.60" x2="283.90" y2="911.60" stroke="#2b2b2b" stroke-width="1.15"/>
<text x="278.10" y="914.80" font-size="10.5" text-anchor="end" font-weight="bold" fill="#111" >0</text>
<line x1="279.30" y1="861.77" x2="283.90" y2="861.77" stroke="#2b2b2b" stroke-width="1.15"/>
<text x="278.10" y="864.98" font-size="10.5" text-anchor="end" font-weight="bold" fill="#111" >50</text>
<line x1="279.30" y1="811.95" x2="283.90" y2="811.95" stroke="#2b2b2b" stroke-width="1.15"/>
<text x="278.10" y="815.15" font-size="10.5" text-anchor="end" font-weight="bold" fill="#111" >100</text>
<line x1="279.30" y1="762.12" x2="283.90" y2="762.12" stroke="#2b2b2b" stroke-width="1.15"/>
<text x="278.10" y="765.33" font-size="10.5" text-anchor="end" font-weight="bold" fill="#111" >150</text>
<line x1="279.30" y1="712.30" x2="283.90" y2="712.30" stroke="#2b2b2b" stroke-width="1.15"/>
<text x="278.10" y="715.50" font-size="10.5" text-anchor="end" font-weight="bold" fill="#111" >200</text>
<line x1="298.40" y1="911.60" x2="298.40" y2="915.60" stroke="#2b2b2b" stroke-width="1.1"/>
<line x1="328.10" y1="911.60" x2="328.10" y2="915.60" stroke="#2b2b2b" stroke-width="1.1"/>
<line x1="357.80" y1="911.60" x2="357.80" y2="915.60" stroke="#2b2b2b" stroke-width="1.1"/>
<line x1="387.50" y1="911.60" x2="387.50" y2="915.60" stroke="#2b2b2b" stroke-width="1.1"/>
<line x1="417.20" y1="911.60" x2="417.20" y2="915.60" stroke="#2b2b2b" stroke-width="1.1"/>
<text x="297.00" y="924.60" font-size="8.7" text-anchor="middle" font-weight="bold" fill="#111" >Sal</text>
<text x="326.00" y="924.60" font-size="8.7" text-anchor="middle" font-weight="bold" fill="#111" >IMI</text>
<text x="354.60" y="924.60" font-size="8.7" text-anchor="middle" font-weight="bold" fill="#111" >PGM-L</text>
<text x="387.15" y="924.60" font-size="8.7" text-anchor="middle" font-weight="bold" fill="#111" >PGM-M</text>
<text x="420.20" y="924.60" font-size="8.7" text-anchor="middle" font-weight="bold" fill="#111" >PGM-H</text>
<path d="M299.80,706.00 V701.70 H417.20 V706.00" fill="none" stroke="#3a3a3a" stroke-width="1.2"/>
<polygon points="351.10,694.85 351.78,696.37 353.43,696.54 352.19,697.66 352.54,699.28 351.10,698.45 349.66,699.28 350.01,697.66 348.77,696.54 350.42,696.37" fill="#151515"/>
<polygon points="356.50,694.85 357.18,696.37 358.83,696.54 357.59,697.66 357.94,699.28 356.50,698.45 355.06,699.28 355.41,697.66 354.17,696.54 355.82,696.37" fill="#151515"/>
<path d="M299.80,727.70 V723.40 H386.80 V727.70" fill="none" stroke="#3a3a3a" stroke-width="1.2"/>
<polygon points="344.00,716.55 344.68,718.07 346.33,718.24 345.09,719.36 345.44,720.98 344.00,720.15 342.56,720.98 342.91,719.36 341.67,718.24 343.32,718.07" fill="#151515"/>
<path d="M299.80,748.50 V744.20 H329.10 V748.50" fill="none" stroke="#3a3a3a" stroke-width="1.2"/>
<polygon points="314.40,737.35 315.08,738.87 316.73,739.04 315.49,740.16 315.84,741.78 314.40,740.95 312.96,741.78 313.31,740.16 312.07,739.04 313.72,738.87" fill="#151515"/>
<text x="280.70" y="935.30" font-size="10.3" text-anchor="end" font-weight="normal" fill="#111" stroke="#111" stroke-width="0.4">GluA2</text>
<rect x="285.2" y="928.7" width="141.6" height="6.4" fill="#d0d0d0" filter="url(#bl0)"/>
<rect x="285.8" y="929.2" width="23.0" height="5.4" rx="8" ry="2.7" fill="#080808" filter="url(#bl0)"/>
<rect x="315.1" y="929.2" width="23.0" height="5.4" rx="8" ry="2.7" fill="#080808" filter="url(#bl0)"/>
<rect x="344.5" y="929.2" width="23.0" height="5.4" rx="8" ry="2.7" fill="#080808" filter="url(#bl0)"/>
<rect x="374.0" y="929.2" width="23.0" height="5.4" rx="8" ry="2.7" fill="#080808" filter="url(#bl0)"/>
<rect x="403.4" y="929.2" width="23.0" height="5.4" rx="8" ry="2.7" fill="#080808" filter="url(#bl0)"/>
<text x="430.50" y="934.50" font-size="9.8" text-anchor="start" font-weight="normal" fill="#111" stroke="#111" stroke-width="0.4">99kDa</text>
<text x="470.50" y="658.30" font-size="17" text-anchor="start" font-weight="normal" fill="#000" stroke="#000" stroke-width="0.35">I</text>
<text x="577.10" y="663.10" font-size="10.8" text-anchor="middle" font-weight="normal" fill="#111" stroke="#111" stroke-width="0.4">GluA3, 5 days</text>
<text x="576.70" y="680.80" font-size="10.8" text-anchor="middle" font-weight="normal" fill="#111" stroke="#111" stroke-width="0.4">PFC(N=8)</text>
<text transform="translate(471.80,824.45) rotate(-90)" font-size="11.6" text-anchor="middle" fill="#111" stroke="#111" stroke-width="0.4">Expression of GluA3(%of Con)</text>
<line x1="518.40" y1="812.20" x2="518.40" y2="796.36" stroke="#2b2b2b" stroke-width="1.1"/>
<line x1="512.40" y1="796.36" x2="524.40" y2="796.36" stroke="#2b2b2b" stroke-width="1.1"/>
<rect x="506.70" y="812.20" width="23.40" height="99.20" fill="#ffffff" stroke="#303030" stroke-width="1.05"/>
<line x1="548.10" y1="745.86" x2="548.10" y2="736.40" stroke="#2b2b2b" stroke-width="1.1"/>
<line x1="542.10" y1="736.40" x2="554.10" y2="736.40" stroke="#2b2b2b" stroke-width="1.1"/>
<rect x="536.40" y="745.86" width="23.40" height="165.54" fill="#dadada" stroke="#303030" stroke-width="1.05"/>
<line x1="577.80" y1="770.17" x2="577.80" y2="763.20" stroke="#2b2b2b" stroke-width="1.1"/>
<line x1="571.80" y1="763.20" x2="583.80" y2="763.20" stroke="#2b2b2b" stroke-width="1.1"/>
<rect x="566.10" y="770.17" width="23.40" height="141.23" fill="#767676" stroke="#303030" stroke-width="1.05"/>
<line x1="607.50" y1="750.25" x2="607.50" y2="741.28" stroke="#2b2b2b" stroke-width="1.1"/>
<line x1="601.50" y1="741.28" x2="613.50" y2="741.28" stroke="#2b2b2b" stroke-width="1.1"/>
<rect x="595.80" y="750.25" width="23.40" height="161.15" fill="#474747" stroke="#303030" stroke-width="1.05"/>
<line x1="637.20" y1="747.86" x2="637.20" y2="736.00" stroke="#2b2b2b" stroke-width="1.1"/>
<line x1="631.20" y1="736.00" x2="643.20" y2="736.00" stroke="#2b2b2b" stroke-width="1.1"/>
<rect x="625.50" y="747.86" width="23.40" height="163.54" fill="#171717" stroke="#303030" stroke-width="1.05"/>
<line x1="503.90" y1="912.00" x2="503.90" y2="711.60" stroke="#2b2b2b" stroke-width="1.25"/>
<line x1="499.30" y1="911.40" x2="652.40" y2="911.40" stroke="#2b2b2b" stroke-width="1.25"/>
<line x1="499.30" y1="911.40" x2="503.90" y2="911.40" stroke="#2b2b2b" stroke-width="1.15"/>
<text x="498.10" y="914.60" font-size="10.5" text-anchor="end" font-weight="bold" fill="#111" >0</text>
<line x1="499.30" y1="861.60" x2="503.90" y2="861.60" stroke="#2b2b2b" stroke-width="1.15"/>
<text x="498.10" y="864.80" font-size="10.5" text-anchor="end" font-weight="bold" fill="#111" >50</text>
<line x1="499.30" y1="811.80" x2="503.90" y2="811.80" stroke="#2b2b2b" stroke-width="1.15"/>
<text x="498.10" y="815.00" font-size="10.5" text-anchor="end" font-weight="bold" fill="#111" >100</text>
<line x1="499.30" y1="762.00" x2="503.90" y2="762.00" stroke="#2b2b2b" stroke-width="1.15"/>
<text x="498.10" y="765.20" font-size="10.5" text-anchor="end" font-weight="bold" fill="#111" >150</text>
<line x1="499.30" y1="712.20" x2="503.90" y2="712.20" stroke="#2b2b2b" stroke-width="1.15"/>
<text x="498.10" y="715.40" font-size="10.5" text-anchor="end" font-weight="bold" fill="#111" >200</text>
<line x1="518.40" y1="911.40" x2="518.40" y2="915.40" stroke="#2b2b2b" stroke-width="1.1"/>
<line x1="548.10" y1="911.40" x2="548.10" y2="915.40" stroke="#2b2b2b" stroke-width="1.1"/>
<line x1="577.80" y1="911.40" x2="577.80" y2="915.40" stroke="#2b2b2b" stroke-width="1.1"/>
<line x1="607.50" y1="911.40" x2="607.50" y2="915.40" stroke="#2b2b2b" stroke-width="1.1"/>
<line x1="637.20" y1="911.40" x2="637.20" y2="915.40" stroke="#2b2b2b" stroke-width="1.1"/>
<text x="516.30" y="924.50" font-size="8.7" text-anchor="middle" font-weight="bold" fill="#111" >Sal</text>
<text x="545.30" y="924.50" font-size="8.7" text-anchor="middle" font-weight="bold" fill="#111" >IMI</text>
<text x="573.90" y="924.50" font-size="8.7" text-anchor="middle" font-weight="bold" fill="#111" >PGM-L</text>
<text x="606.45" y="924.50" font-size="8.7" text-anchor="middle" font-weight="bold" fill="#111" >PGM-M</text>
<text x="639.50" y="924.50" font-size="8.7" text-anchor="middle" font-weight="bold" fill="#111" >PGM-H</text>
<path d="M519.70,705.90 V701.60 H636.60 V705.90" fill="none" stroke="#3a3a3a" stroke-width="1.2"/>
<polygon points="570.80,695.05 571.48,696.57 573.13,696.74 571.89,697.86 572.24,699.48 570.80,698.65 569.36,699.48 569.71,697.86 568.47,696.74 570.12,696.57" fill="#151515"/>
<polygon points="576.20,695.05 576.88,696.57 578.53,696.74 577.29,697.86 577.64,699.48 576.20,698.65 574.76,699.48 575.11,697.86 573.87,696.74 575.52,696.57" fill="#151515"/>
<path d="M519.70,715.70 V711.40 H607.40 V715.70" fill="none" stroke="#3a3a3a" stroke-width="1.2"/>
<polygon points="560.60,704.85 561.28,706.37 562.93,706.54 561.69,707.66 562.04,709.28 560.60,708.45 559.16,709.28 559.51,707.66 558.27,706.54 559.92,706.37" fill="#151515"/>
<polygon points="566.00,704.85 566.68,706.37 568.33,706.54 567.09,707.66 567.44,709.28 566.00,708.45 564.56,709.28 564.91,707.66 563.67,706.54 565.32,706.37" fill="#151515"/>
<path d="M519.70,725.70 V721.40 H577.80 V725.70" fill="none" stroke="#3a3a3a" stroke-width="1.2"/>
<polygon points="549.40,714.85 550.08,716.37 551.73,716.54 550.49,717.66 550.84,719.28 549.40,718.45 547.96,719.28 548.31,717.66 547.07,716.54 548.72,716.37" fill="#151515"/>
<path d="M519.70,735.10 V730.80 H548.50 V735.10" fill="none" stroke="#3a3a3a" stroke-width="1.2"/>
<polygon points="531.80,724.25 532.48,725.77 534.13,725.94 532.89,727.06 533.24,728.68 531.80,727.85 530.36,728.68 530.71,727.06 529.47,725.94 531.12,725.77" fill="#151515"/>
<polygon points="537.20,724.25 537.88,725.77 539.53,725.94 538.29,727.06 538.64,728.68 537.20,727.85 535.76,728.68 536.11,727.06 534.87,725.94 536.52,725.77" fill="#151515"/>
<text x="502.00" y="935.30" font-size="10.3" text-anchor="end" font-weight="normal" fill="#111" stroke="#111" stroke-width="0.4">GluA3</text>
<rect x="505.6" y="928.7" width="141.9" height="6.4" fill="#d0d0d0" filter="url(#bl0)"/>
<rect x="506.1" y="929.2" width="23.0" height="5.4" rx="8" ry="2.7" fill="#080808" filter="url(#bl0)"/>
<rect x="535.6" y="929.2" width="23.0" height="5.4" rx="8" ry="2.7" fill="#080808" filter="url(#bl0)"/>
<rect x="565.0" y="929.2" width="23.0" height="5.4" rx="8" ry="2.7" fill="#080808" filter="url(#bl0)"/>
<rect x="594.5" y="929.2" width="23.0" height="5.4" rx="8" ry="2.7" fill="#080808" filter="url(#bl0)"/>
<rect x="624.0" y="929.2" width="23.0" height="5.4" rx="8" ry="2.7" fill="#080808" filter="url(#bl0)"/>
<text x="650.20" y="934.70" font-size="9.8" text-anchor="start" font-weight="normal" fill="#111" stroke="#111" stroke-width="0.4">99kDa</text>
</svg></body></html>
